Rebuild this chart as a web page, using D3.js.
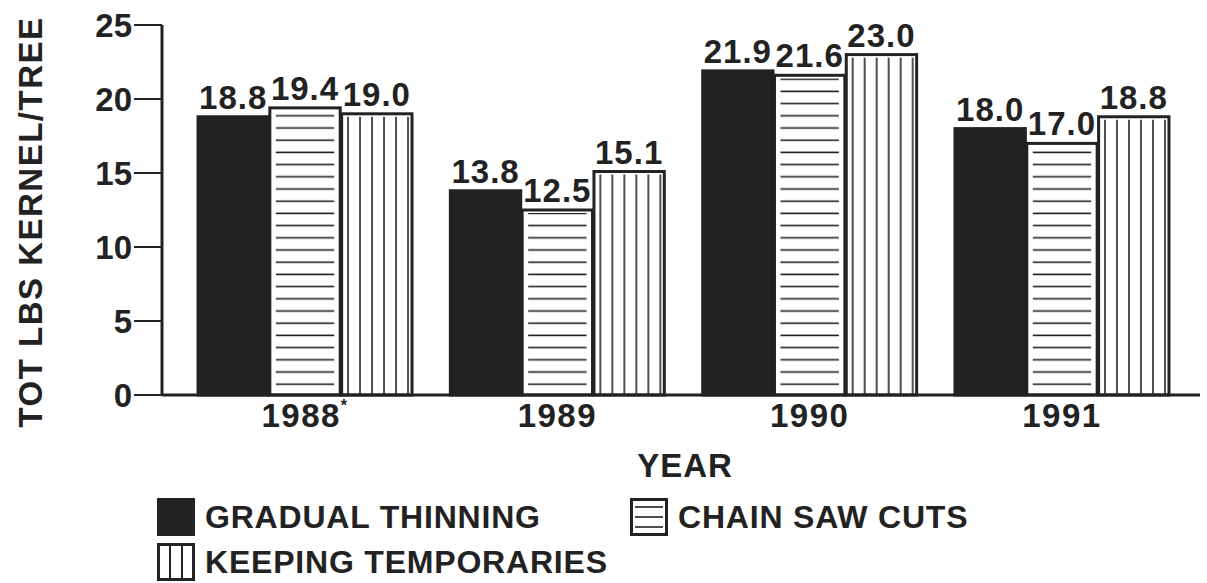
<!DOCTYPE html>
<html>
<head>
<meta charset="utf-8">
<script src="https://cdn.jsdelivr.net/npm/d3@7"></script>
<style>
  body { margin: 0; background: #fff; }
  text { font-family: "Liberation Sans", Arial, sans-serif; font-weight: bold; fill: #222; }
</style>
</head>
<body>
<div id="chart"></div>
<script>
// data
const years = ["1988", "1989", "1990", "1991"];
const yearNotes = ["*", "", "", ""];
const seriesNames = ["GRADUAL THINNING", "CHAIN SAW CUTS", "KEEPING TEMPORARIES"];
const gradualThinning = [18.8, 13.8, 21.9, 18.0];
const chainSawCuts = [19.4, 12.5, 21.6, 17.0];
const keepingTemporaries = [19.0, 15.1, 23.0, 18.8];
const yTicks = [0, 5, 10, 15, 20, 25];

const width = 1207, height = 583;
const ink = "#222";

const svg = d3.select("#chart").append("svg")
  .attr("width", width)
  .attr("height", height);

// patterns for the hatched bars
const defs = svg.append("defs");
const hp = defs.append("pattern")
  .attr("id", "hlines")
  .attr("patternUnits", "userSpaceOnUse")
  .attr("width", 12).attr("height", 12.2);
hp.append("line")
  .attr("x1", 0).attr("x2", 12).attr("y1", 6).attr("y2", 6)
  .attr("stroke", ink).attr("stroke-width", 1.6);

const vp = defs.append("pattern")
  .attr("id", "vlines")
  .attr("patternUnits", "userSpaceOnUse")
  .attr("width", 12).attr("height", 12);
vp.append("line")
  .attr("x1", 6).attr("x2", 6).attr("y1", 0).attr("y2", 12)
  .attr("stroke", ink).attr("stroke-width", 1.6);

const fills = ["solid", "hlines", "vlines"];
const series = [gradualThinning, chainSawCuts, keepingTemporaries];

// scales
const x0 = d3.scaleBand()
  .domain(years)
  .range([180, 1187])
  .paddingInner(0.152)
  .paddingOuter(0.0715);

const x1 = d3.scaleBand()
  .domain(d3.range(series.length))
  .range([0, x0.bandwidth()])
  .paddingInner(0.02);

const y = d3.scaleLinear()
  .domain([0, 25])
  .range([395, 25]);

// bars
const groups = svg.append("g").selectAll("g")
  .data(years)
  .enter().append("g")
  .attr("transform", d => "translate(" + x0(d) + ",0)");

const bars = groups.selectAll("g")
  .data((d, i) => series.map((s, k) => ({k: k, v: s[i]})))
  .enter().append("g");

bars.append("rect")
  .attr("x", d => x1(d.k))
  .attr("y", d => y(d.v))
  .attr("width", x1.bandwidth())
  .attr("height", d => y(0) - y(d.v))
  .attr("fill", d => fills[d.k] === "solid" ? ink : "#fff")
  .attr("stroke", ink)
  .attr("stroke-width", 3);

bars.filter(d => d.k > 0).append("rect")
  .attr("x", d => x1(d.k) + (d.k === 1 ? 6 : 2))
  .attr("y", d => y(d.v) + 3)
  .attr("width", d => x1.bandwidth() - (d.k === 1 ? 12 : 4))
  .attr("height", d => y(0) - y(d.v) - 4)
  .attr("fill", d => "url(#" + fills[d.k] + ")");

// value labels
bars.append("text")
  .attr("x", d => x1(d.k) + x1.bandwidth() / 2)
  .attr("y", d => y(d.v) - 8)
  .attr("text-anchor", "middle")
  .attr("font-size", 33)
  .attr("letter-spacing", 1)
  .text(d => d3.format(".1f")(d.v));

// y axis
const yAxis = svg.append("g");
yAxis.append("line")
  .attr("x1", 162).attr("x2", 162)
  .attr("y1", y(25)).attr("y2", y(0))
  .attr("stroke", ink).attr("stroke-width", 3);
yAxis.selectAll(".tick")
  .data(yTicks)
  .enter().append("line")
  .attr("x1", 134).attr("x2", 162)
  .attr("y1", d => y(d)).attr("y2", d => y(d))
  .attr("stroke", ink).attr("stroke-width", 2);
yAxis.selectAll(".lbl")
  .data(yTicks)
  .enter().append("text")
  .attr("x", 132)
  .attr("y", d => y(d))
  .attr("dy", "0.36em")
  .attr("text-anchor", "end")
  .attr("font-size", 33)
  .text(d => d);

// x axis baseline + year labels
svg.append("line")
  .attr("x1", 162).attr("x2", 1200)
  .attr("y1", y(0)).attr("y2", y(0))
  .attr("stroke", ink).attr("stroke-width", 3);

const yl = svg.append("g").selectAll("text")
  .data(years)
  .enter().append("text")
  .attr("x", d => x0(d) + x0.bandwidth() / 2)
  .attr("y", 427)
  .attr("text-anchor", "middle")
  .attr("font-size", 33)
  .attr("letter-spacing", 1.5)
  .text(d => d);
yl.append("tspan")
  .attr("font-size", 16)
  .attr("dy", -16)
  .text((d, i) => yearNotes[i]);

// axis titles
svg.append("text")
  .attr("x", 685).attr("y", 477)
  .attr("text-anchor", "middle")
  .attr("font-size", 33)
  .attr("letter-spacing", 1)
  .text("YEAR");

svg.append("text")
  .attr("transform", "translate(42,222) rotate(-90)")
  .attr("text-anchor", "middle")
  .attr("font-size", 33)
  .attr("letter-spacing", 1.5)
  .text("TOT LBS KERNEL/TREE");

// legend
const legendPos = [[157, 498], [630, 498], [157, 543]];
const legend = svg.append("g").selectAll("g")
  .data(seriesNames)
  .enter().append("g")
  .attr("transform", (d, i) => "translate(" + legendPos[i][0] + "," + legendPos[i][1] + ")");

legend.append("rect")
  .attr("x", 1.5).attr("y", 1.5)
  .attr("width", 35).attr("height", 35)
  .attr("fill", (d, i) => fills[i] === "solid" ? ink : "#fff")
  .attr("stroke", ink)
  .attr("stroke-width", 3);

legend.filter((d, i) => i === 1).selectAll("line")
  .data([9, 19, 29])
  .enter().append("line")
  .attr("x1", 5).attr("x2", 33)
  .attr("y1", d => d).attr("y2", d => d)
  .attr("stroke", ink).attr("stroke-width", 1.6);

legend.filter((d, i) => i === 2).selectAll("line")
  .data([13, 25])
  .enter().append("line")
  .attr("x1", d => d).attr("x2", d => d)
  .attr("y1", 2).attr("y2", 36)
  .attr("stroke", ink).attr("stroke-width", 2);

legend.append("text")
  .attr("x", 48)
  .attr("y", 30)
  .attr("font-size", 32)
  .attr("letter-spacing", 0.8)
  .text(d => d);
</script>
</body>
</html>
